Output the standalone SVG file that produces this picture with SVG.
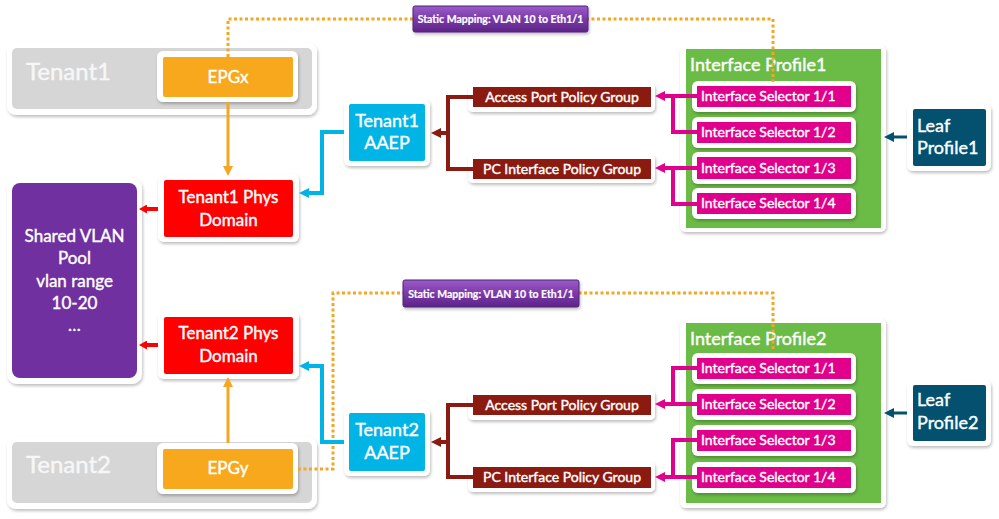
<svg xmlns="http://www.w3.org/2000/svg" width="999" height="519" viewBox="0 0 999 519">
<defs>
<filter id="sh" x="-10%" y="-10%" width="125%" height="130%">
<feDropShadow dx="1" dy="2" stdDeviation="1.6" flood-color="#000" flood-opacity="0.25"/>
</filter>
<linearGradient id="pg" x1="0" y1="0" x2="0" y2="1">
<stop offset="0" stop-color="#9a5cc8"/>
<stop offset="0.5" stop-color="#7a3aa8"/>
<stop offset="1" stop-color="#5e2488"/>
</linearGradient>
<marker id="m-or" markerUnits="userSpaceOnUse" markerWidth="10" markerHeight="10" refX="2" refY="5" orient="auto"><path d="M0,0 L10,5 L0,10 z" fill="#f5a623"/></marker>
<marker id="m-red" markerUnits="userSpaceOnUse" markerWidth="9" markerHeight="9" refX="1" refY="4.5" orient="auto"><path d="M0,0 L8,4.5 L0,9 z" fill="#ff0000"/></marker>
<marker id="m-cy" markerUnits="userSpaceOnUse" markerWidth="10" markerHeight="10" refX="2" refY="5" orient="auto"><path d="M0,0 L10,5 L0,10 z" fill="#00b4e6"/></marker>
<marker id="m-dr" markerUnits="userSpaceOnUse" markerWidth="10" markerHeight="10" refX="2" refY="5" orient="auto"><path d="M0,0 L10,5 L0,10 z" fill="#8b1a10"/></marker>
<marker id="m-mg" markerUnits="userSpaceOnUse" markerWidth="10" markerHeight="10" refX="2" refY="5" orient="auto"><path d="M0,0 L10,5 L0,10 z" fill="#e0008c"/></marker>
<marker id="m-tl" markerUnits="userSpaceOnUse" markerWidth="10" markerHeight="10" refX="2" refY="5" orient="auto"><path d="M0,0 L10,5 L0,10 z" fill="#03506f"/></marker>
</defs>
<style>
text{font-family:Lato,"Open Sans","Liberation Sans",sans-serif;fill:#fff;stroke:#fff;stroke-width:0.4px}
.wb{fill:#fff;filter:url(#sh)}
.c{text-anchor:middle}
.t22{font-size:24px;fill:#f7f7f7;stroke:#f7f7f7}
.t17{font-size:17px}
.t18{font-size:18px}
.t14{font-size:14px}
.t16{font-size:17px}
.lab{font-size:10.5px;font-weight:bold;text-anchor:middle;stroke-width:0.2px}
.grey{fill:#d6d6d6}
.epg{fill:#f7a81d}
.dom{fill:#ff0000}
.aaep{fill:#00b4e6}
.pg{fill:#8b1a10}
.ip{fill:#6bbb47}
.sel{fill:#e0008c}
.leaf{fill:#03506f}
.ln{fill:none}
</style>
<rect width="999" height="519" fill="#fff"/>

<g id="tenant1">
<rect class="wb" x="7" y="43" width="310" height="72" rx="9"/>
<rect class="grey" x="12" y="48" width="300" height="61" rx="5"/>
<text class="t22" x="26" y="80">Tenant1</text>
</g>
<g id="epgx">
<rect class="wb" x="157" y="51" width="141" height="51" rx="6"/>
<rect class="epg" x="163" y="57" width="130" height="40" rx="2"/>
<text class="t16 c" x="228" y="83">EPGx</text>
</g>
<g id="tenant1-phys-domain">
<rect class="wb" x="158" y="174" width="141" height="68" rx="6"/>
<rect class="dom" x="164" y="180" width="129" height="57" rx="2"/>
<text class="t17 c" x="228.5" y="203">Tenant1 Phys</text>
<text class="t17 c" x="228.5" y="226">Domain</text>
</g>
<g id="shared-vlan-pool">
<rect class="wb" x="7" y="178" width="135" height="206" rx="10"/>
<rect x="12" y="183" width="125" height="195" rx="8" fill="#7030a0"/>
<text class="t17 c" x="74.5" y="242">Shared VLAN</text>
<text class="t17 c" x="74.5" y="264">Pool</text>
<text class="t17 c" x="74.5" y="287">vlan range</text>
<text class="t17 c" x="74.5" y="309">10-20</text>
<text class="t17 c" x="74.5" y="331">…</text>
</g>
<g id="tenant2-phys-domain">
<rect class="wb" x="158" y="312" width="141" height="67" rx="6"/>
<rect class="dom" x="164" y="317" width="129" height="57" rx="2"/>
<text class="t17 c" x="228.5" y="339">Tenant2 Phys</text>
<text class="t17 c" x="228.5" y="362">Domain</text>
</g>
<g id="tenant2">
<rect class="wb" x="7" y="437" width="310" height="72" rx="9"/>
<rect class="grey" x="12" y="442" width="300" height="61" rx="5"/>
<text class="t22" x="26" y="473">Tenant2</text>
</g>
<g id="epgy">
<rect class="wb" x="157" y="443" width="141" height="51" rx="6"/>
<rect class="epg" x="163" y="449" width="130" height="40" rx="2"/>
<text class="t16 c" x="228" y="474">EPGy</text>
</g>
<g id="tenant1-aaep">
<rect class="wb" x="344" y="99" width="86" height="67" rx="6"/>
<rect class="aaep" x="349" y="104" width="76" height="57" rx="2"/>
<text class="t18 c" x="387" y="127">Tenant1</text>
<text class="t18 c" x="387" y="149">AAEP</text>
</g>
<g id="tenant2-aaep">
<rect class="wb" x="344" y="408" width="86" height="68" rx="6"/>
<rect class="aaep" x="349" y="413" width="76" height="58" rx="2"/>
<text class="t18 c" x="387" y="436">Tenant2</text>
<text class="t18 c" x="387" y="459">AAEP</text>
</g>
<g id="access-port-pg1">
<rect class="wb" x="468" y="83" width="187" height="29" rx="5"/>
<rect class="pg" x="473" y="87" width="178" height="20"/>
<text class="t14 c" x="562" y="102">Access Port Policy Group</text>
</g>
<g id="pc-interface-pg1">
<rect class="wb" x="468" y="154" width="187" height="29" rx="5"/>
<rect class="pg" x="473" y="159" width="178" height="20"/>
<text class="t14 c" x="562" y="174">PC Interface Policy Group</text>
</g>
<g id="access-port-pg2">
<rect class="wb" x="468" y="390" width="187" height="30" rx="5"/>
<rect class="pg" x="473" y="395" width="178" height="20"/>
<text class="t14 c" x="562" y="410">Access Port Policy Group</text>
</g>
<g id="pc-interface-pg2">
<rect class="wb" x="468" y="462" width="187" height="30" rx="5"/>
<rect class="pg" x="473" y="467" width="178" height="21"/>
<text class="t14 c" x="562" y="482">PC Interface Policy Group</text>
</g>

<g id="interface-profile1">
<rect class="wb" x="680" y="45" width="206" height="187" rx="6"/>
<rect class="ip" x="686" y="49" width="195" height="179"/>
<text class="t18" x="690" y="71">Interface Profile1</text>
</g>
<g id="if1-sel-1-1">
<rect class="wb" x="692" y="81" width="164" height="31" rx="6"/>
<rect class="sel" x="697" y="86" width="154" height="21"/>
<text class="t14" x="701" y="101">Interface Selector 1/1</text>
</g>
<g id="if1-sel-1-2">
<rect class="wb" x="692" y="117" width="164" height="31" rx="6"/>
<rect class="sel" x="697" y="122" width="154" height="21"/>
<text class="t14" x="701" y="137">Interface Selector 1/2</text>
</g>
<g id="if1-sel-1-3">
<rect class="wb" x="692" y="152" width="164" height="32" rx="6"/>
<rect class="sel" x="697" y="157" width="154" height="22"/>
<text class="t14" x="701" y="173">Interface Selector 1/3</text>
</g>
<g id="if1-sel-1-4">
<rect class="wb" x="692" y="188" width="164" height="31" rx="6"/>
<rect class="sel" x="697" y="193" width="154" height="21"/>
<text class="t14" x="701" y="208">Interface Selector 1/4</text>
</g>
<g id="leaf-profile1">
<rect class="wb" x="907" y="104" width="84" height="67" rx="6"/>
<rect class="leaf" x="913" y="109" width="73" height="57" rx="2"/>
<text class="t18" x="917" y="132">Leaf</text>
<text class="t18" x="917" y="154">Profile1</text>
</g>

<g id="interface-profile2">
<rect class="wb" x="680" y="318" width="206" height="190" rx="6"/>
<rect class="ip" x="686" y="323" width="195" height="180"/>
<text class="t18" x="690" y="345">Interface Profile2</text>
</g>
<g id="if2-sel-1-1">
<rect class="wb" x="692" y="353" width="164" height="31" rx="6"/>
<rect class="sel" x="697" y="358" width="154" height="21"/>
<text class="t14" x="701" y="373">Interface Selector 1/1</text>
</g>
<g id="if2-sel-1-2">
<rect class="wb" x="692" y="389" width="164" height="31" rx="6"/>
<rect class="sel" x="697" y="394" width="154" height="21"/>
<text class="t14" x="701" y="409">Interface Selector 1/2</text>
</g>
<g id="if2-sel-1-3">
<rect class="wb" x="692" y="425" width="164" height="31" rx="6"/>
<rect class="sel" x="697" y="430" width="154" height="21"/>
<text class="t14" x="701" y="445">Interface Selector 1/3</text>
</g>
<g id="if2-sel-1-4">
<rect class="wb" x="692" y="462" width="164" height="31" rx="6"/>
<rect class="sel" x="697" y="467" width="154" height="21"/>
<text class="t14" x="701" y="482">Interface Selector 1/4</text>
</g>
<g id="leaf-profile2">
<rect class="wb" x="907" y="380" width="84" height="66" rx="6"/>
<rect class="leaf" x="913" y="385" width="73" height="56" rx="2"/>
<text class="t18" x="917" y="406">Leaf</text>
<text class="t18" x="917" y="429">Profile2</text>
</g>

<g id="connectors" class="ln">
<path d="M228,57 V19 H773 V82" stroke="#f5a623" stroke-width="3" stroke-dasharray="3 2.5"/>
<path d="M298,469 H333 V293 H773 V351" stroke="#f5a623" stroke-width="3" stroke-dasharray="3 2.5"/>
<path d="M228,102 V168" stroke="#f5a623" stroke-width="3" marker-end="url(#m-or)"/>
<path d="M228,443 V385" stroke="#f5a623" stroke-width="3" marker-end="url(#m-or)"/>
<path d="M158,209 H146" stroke="#ff0000" stroke-width="4" marker-end="url(#m-red)"/>
<path d="M158,345 H146" stroke="#ff0000" stroke-width="4" marker-end="url(#m-red)"/>
<path d="M344,132 H322 V193 H307" stroke="#00b4e6" stroke-width="4" marker-end="url(#m-cy)"/>
<path d="M344,442 H322 V366 H307" stroke="#00b4e6" stroke-width="4" marker-end="url(#m-cy)"/>
<path d="M473,97 H448 V169 H473" stroke="#8b1a10" stroke-width="4"/>
<path d="M448,133 H439" stroke="#8b1a10" stroke-width="4" marker-end="url(#m-dr)"/>
<path d="M473,405 H448 V477 H473" stroke="#8b1a10" stroke-width="4"/>
<path d="M448,442 H439" stroke="#8b1a10" stroke-width="4" marker-end="url(#m-dr)"/>
<path d="M697,96 H663" stroke="#e0008c" stroke-width="4" marker-end="url(#m-mg)"/>
<path d="M697,132 H673 V96" stroke="#e0008c" stroke-width="4"/>
<path d="M697,168 H663" stroke="#e0008c" stroke-width="4" marker-end="url(#m-mg)"/>
<path d="M697,204 H673 V168" stroke="#e0008c" stroke-width="4"/>
<path d="M697,368 H673 V404" stroke="#e0008c" stroke-width="4"/>
<path d="M697,404 H663" stroke="#e0008c" stroke-width="4" marker-end="url(#m-mg)"/>
<path d="M697,440 H673 V477" stroke="#e0008c" stroke-width="4"/>
<path d="M697,477 H663" stroke="#e0008c" stroke-width="4" marker-end="url(#m-mg)"/>
<path d="M907,137 H892" stroke="#03506f" stroke-width="3" marker-end="url(#m-tl)"/>
<path d="M907,413 H892" stroke="#03506f" stroke-width="3" marker-end="url(#m-tl)"/>
</g>

<g id="static-mapping-1">
<rect x="413" y="6" width="175" height="26" rx="2" fill="url(#pg)" stroke="#55207a" stroke-width="1" filter="url(#sh)"/>
<text class="lab" x="500.5" y="23">Static Mapping: VLAN 10 to Eth1/1</text>
</g>
<g id="static-mapping-2">
<rect x="403" y="280" width="176" height="27" rx="2" fill="url(#pg)" stroke="#55207a" stroke-width="1" filter="url(#sh)"/>
<text class="lab" x="491" y="297.5">Static Mapping: VLAN 10 to Eth1/1</text>
</g>
</svg>
